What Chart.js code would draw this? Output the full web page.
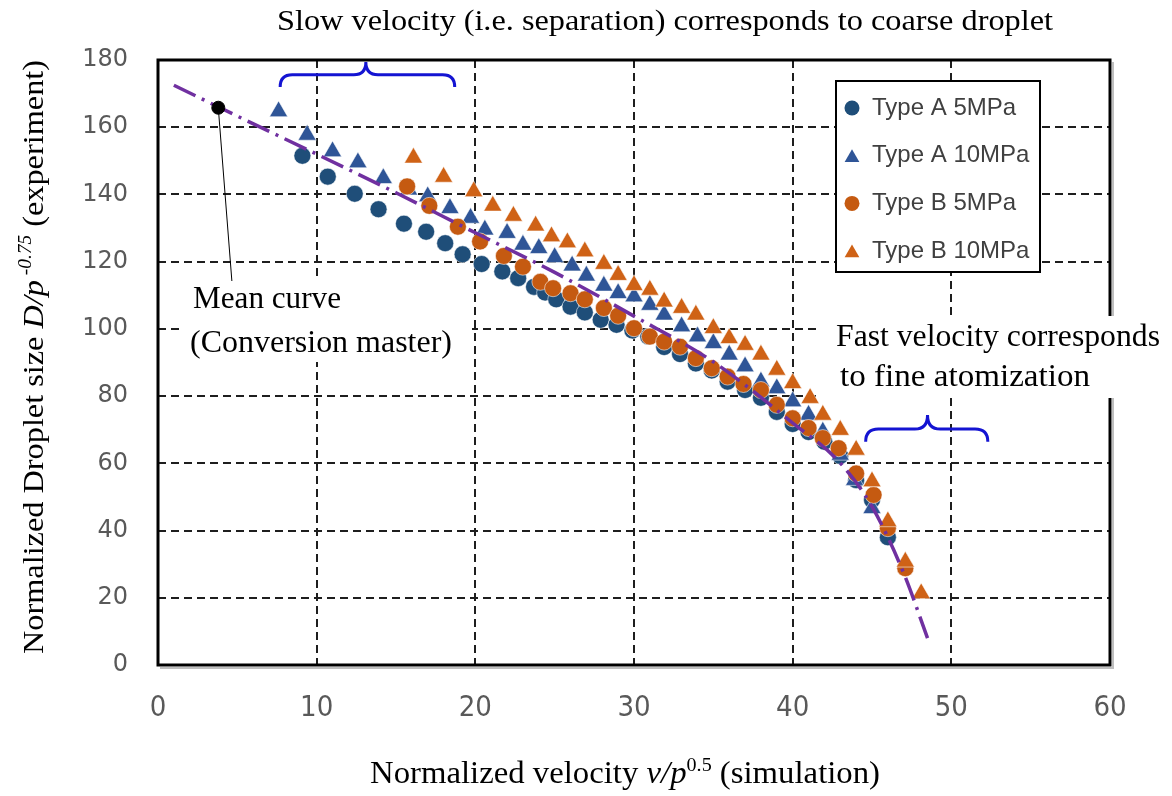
<!DOCTYPE html>
<html>
<head>
<meta charset="utf-8">
<script src="https://cdn.jsdelivr.net/npm/chart.js@4.4.1/dist/chart.umd.min.js"></script>
<style>
  html, body { margin: 0; padding: 0; background: #fff; }
  #wrap { position: relative; width: 1172px; height: 796px; }
</style>
</head>
<body>
<div id="wrap"><canvas id="chart" width="1172" height="796"></canvas></div>
<script>
// Axis ticks
const xTicks = [0, 10, 20, 30, 40, 50, 60];
const yTicks = [0, 20, 40, 60, 80, 100, 120, 140, 160, 180];

// Type A 5MPa
const typeA5x = [9.1, 10.7, 12.4, 13.9, 15.5, 16.9, 18.1, 19.2, 20.4, 21.7, 22.7, 23.7, 24.4, 25.1, 26.0, 26.9, 27.9, 28.9, 29.9, 30.9, 31.9, 32.9, 33.9, 34.9, 35.9, 37.0, 38.0, 39.0, 40.0, 41.0, 42.0, 43.0, 44.0, 45.0, 46.0];
const typeA5y = [151.5, 145.3, 140.2, 135.6, 131.3, 128.9, 125.5, 122.2, 119.3, 117.1, 115.1, 112.5, 110.8, 108.8, 106.6, 104.9, 102.7, 101.2, 99.5, 97.7, 94.6, 92.5, 89.7, 87.6, 84.3, 81.8, 79.5, 75.3, 71.7, 69.3, 66.4, 62.2, 55.0, 49.1, 38.0];

// Type A 10MPa
const typeA10x = [7.6, 9.4, 11.0, 12.6, 14.2, 15.8, 17.0, 18.4, 19.7, 20.6, 22.0, 23.0, 24.0, 25.0, 26.1, 27.0, 28.1, 29.0, 30.0, 31.0, 31.9, 33.0, 34.0, 35.0, 36.0, 37.0, 38.0, 39.0, 40.0, 41.0, 41.9, 43.0, 43.9, 45.0];
const typeA10y = [164.7, 157.7, 152.8, 149.5, 144.8, 141.4, 139.4, 135.9, 133.0, 129.5, 128.5, 125.0, 124.0, 121.3, 118.8, 115.8, 112.8, 110.6, 109.6, 107.1, 104.2, 100.7, 97.7, 95.7, 92.3, 88.8, 84.3, 82.3, 78.4, 74.4, 69.4, 62.5, 55.0, 46.6];

// Type B 5MPa
const typeB5x = [15.7, 17.1, 18.9, 20.3, 21.8, 23.0, 24.1, 24.9, 26.0, 26.9, 28.1, 29.0, 30.0, 31.0, 31.9, 32.9, 33.9, 34.9, 35.9, 36.9, 38.0, 39.0, 40.0, 41.0, 41.9, 42.9, 44.0, 45.1, 46.0, 47.1];
const typeB5y = [142.4, 136.6, 130.4, 126.0, 121.7, 118.5, 114.0, 112.1, 110.6, 108.8, 106.2, 103.9, 100.2, 97.7, 96.2, 94.7, 91.3, 88.3, 85.8, 83.6, 81.8, 77.4, 73.4, 70.5, 67.5, 64.5, 57.0, 50.6, 40.7, 28.8];

// Type B 10MPa
const typeB10x = [16.1, 18.0, 19.9, 21.1, 22.4, 23.8, 24.8, 25.8, 26.9, 28.1, 29.0, 30.0, 31.0, 31.9, 33.0, 33.9, 35.0, 36.0, 37.0, 38.0, 39.0, 40.0, 41.1, 41.9, 43.0, 44.0, 45.0, 46.0, 47.1, 48.1];
const typeB10y = [150.9, 145.2, 140.9, 136.6, 133.6, 130.7, 127.5, 125.7, 123.0, 119.3, 116.0, 113.0, 111.6, 108.1, 106.2, 104.2, 100.2, 97.2, 95.2, 92.3, 87.8, 83.8, 79.4, 74.4, 69.9, 64.0, 54.6, 42.7, 30.7, 21.3];

// Mean curve (conversion master) and its marked point
const meanX = [1.0, 5, 10, 15, 20, 25, 30, 35, 40, 43, 45, 47, 48.5];
const meanY = [172.5, 163.3, 152.0, 140.5, 128.6, 116.8, 103.8, 90.2, 72.0, 60.1, 47.1, 27.3, 8.0];
const meanDotX = [3.8];
const meanDotY = [165.8];

const pts = (xs, ys) => xs.map((x, i) => ({x, y: ys[i]}));

const SERIF = '"Liberation Serif", "Times New Roman", serif';

// Draw a run of differently styled text pieces, stretched to fit [left, right]
function drawRich(ctx, parts, left, right, cy){
  let w = 0;
  parts.forEach(p => { ctx.font = p.f; w += ctx.measureText(p.t).width; });
  const k = (right - left) / w;
  ctx.save();
  ctx.translate(left, cy);
  ctx.scale(k, 1);
  ctx.textAlign = 'left';
  ctx.textBaseline = 'middle';
  let x = 0;
  parts.forEach(p => {
    ctx.font = p.f;
    ctx.fillText(p.t, x, p.dy || 0);
    x += ctx.measureText(p.t).width;
  });
  ctx.restore();
}

function marker(ctx, style, x, y, r, color){
  ctx.fillStyle = color;
  ctx.beginPath();
  if(style === 'circle') ctx.arc(x, y, r, 0, Math.PI * 2);
  else {
    for(let i = 0; i < 3; i++){
      const ang = i * 2 * Math.PI / 3;
      const mx = x + Math.sin(ang) * r, my = y - Math.cos(ang) * r;
      if(i) ctx.lineTo(mx, my); else ctx.moveTo(mx, my);
    }
    ctx.closePath();
  }
  ctx.fill();
}

function brace(ctx, x1, x2, xm, yEnd, yBar, yTip){
  const r = Math.abs(yEnd - yBar);
  ctx.beginPath();
  ctx.moveTo(x1, yEnd);
  ctx.quadraticCurveTo(x1, yBar, x1 + r, yBar);
  ctx.lineTo(xm - r, yBar);
  ctx.quadraticCurveTo(xm, yBar, xm, yTip);
  ctx.quadraticCurveTo(xm, yBar, xm + r, yBar);
  ctx.lineTo(x2 - r, yBar);
  ctx.quadraticCurveTo(x2, yBar, x2, yEnd);
  ctx.stroke();
}

// Frame, annotations, legend and axis titles
const decor = {
  id: 'decor',
  afterDraw(chart){
    const {ctx, chartArea: a} = chart;
    const sx = chart.scales.x, sy = chart.scales.y;
    const px = v => sx.getPixelForValue(v), py = v => sy.getPixelForValue(v);
    ctx.save();

    // plot frame with a faint shadow under it
    ctx.strokeStyle = 'rgba(0,0,0,0.25)';
    ctx.lineWidth = 2;
    ctx.beginPath();
    ctx.moveTo(a.left + 2, a.bottom + 3);
    ctx.lineTo(a.right + 3, a.bottom + 3);
    ctx.lineTo(a.right + 3, a.top + 2);
    ctx.stroke();
    ctx.strokeStyle = '#000';
    ctx.lineWidth = 3;
    ctx.strokeRect(a.left, a.top, a.right - a.left, a.bottom - a.top);

    // leader from the mean point to its label
    ctx.lineWidth = 1;
    ctx.beginPath();
    ctx.moveTo(px(meanDotX[0]), py(meanDotY[0]));
    ctx.lineTo(px(4.7), py(111.6));
    ctx.stroke();

    // braces
    ctx.strokeStyle = '#1414D2';
    ctx.lineWidth = 3;
    brace(ctx, px(7.7), px(18.7), px(13.1), py(172.0), py(175.6), py(179.4));
    brace(ctx, px(44.6), px(52.3), px(48.5), py(66.4), py(70.2), py(74.4));

    // text boxes
    ctx.fillStyle = '#fff';
    ctx.fillRect(182, 281, 290, 81);
    ctx.fillRect(821, 316, 351, 82);
    ctx.fillStyle = '#000';
    drawRich(ctx, [{t: 'Mean curve', f: '31px ' + SERIF}], 193, 341, 300);
    drawRich(ctx, [{t: '(Conversion master)', f: '31px ' + SERIF}], 190, 452, 344);
    drawRich(ctx, [{t: 'Fast velocity corresponds', f: '31px ' + SERIF}], 836, 1160, 338);
    drawRich(ctx, [{t: 'to fine atomization', f: '31px ' + SERIF}], 840, 1090, 378);

    // top caption
    drawRich(ctx, [{t: 'Slow velocity (i.e. separation) corresponds to coarse droplet', f: '29px ' + SERIF}], 277, 1053, 22);

    // x axis title
    drawRich(ctx, [
      {t: 'Normalized velocity ', f: '31px ' + SERIF},
      {t: 'v/p', f: 'italic 31px ' + SERIF},
      {t: '0.5', f: '19px ' + SERIF, dy: -9},
      {t: ' (simulation)', f: '31px ' + SERIF}
    ], 370, 880, 775);

    // y axis title (rotated)
    ctx.save();
    ctx.translate(35, 0);
    ctx.rotate(-Math.PI / 2);
    drawRich(ctx, [
      {t: 'Normalized Droplet size ', f: '30px ' + SERIF},
      {t: 'D/p', f: 'italic 30px ' + SERIF},
      {t: ' -0.75', f: 'italic 18px ' + SERIF, dy: -9},
      {t: ' (experiment)', f: '30px ' + SERIF}
    ], -654, -60, 0);
    ctx.restore();

    // legend
    const lx = 836, ly = 81, lw = 204, lh = 191;
    ctx.fillStyle = '#fff';
    ctx.fillRect(lx, ly, lw, lh);
    ctx.strokeStyle = '#000';
    ctx.lineWidth = 2;
    ctx.strokeRect(lx, ly, lw, lh);
    const rows = chart.data.datasets.filter(d => d.inLegend);
    rows.forEach((d, i) => {
      const cy = 108 + i * 47.7;
      marker(ctx, d.pointStyle, 852, cy + (d.pointStyle === 'circle' ? 0 : 2), d.pointStyle === 'circle' ? 7.5 : 8.5, d.backgroundColor);
      ctx.fillStyle = '#404040';
      ctx.font = '24px "Liberation Sans", Arial, sans-serif';
      ctx.textAlign = 'left';
      ctx.textBaseline = 'middle';
      ctx.fillText(d.label, 872, cy);
    });

    ctx.restore();
  }
};

const seriesStyle = (color, style, r, order) => ({
  pointStyle: style,
  pointRadius: r,
  pointHoverRadius: r,
  backgroundColor: color,
  borderColor: 'rgba(255,255,255,0.55)',
  borderWidth: 1,
  order,
  inLegend: true
});

new Chart(document.getElementById('chart'), {
  type: 'scatter',
  data: {
    datasets: [
      {label: 'Mean point', data: pts(meanDotX, meanDotY), pointRadius: 6.5, backgroundColor: '#000', borderColor: '#000', order: 0},
      {label: 'Mean curve', data: pts(meanX, meanY), showLine: true, borderColor: '#7030A0', borderWidth: 3.5,
        borderDash: [24, 7, 3, 7], pointRadius: 0, cubicInterpolationMode: 'monotone', fill: false, order: 1},
      Object.assign({label: 'Type A 5MPa', data: pts(typeA5x, typeA5y)}, seriesStyle('#1F4E79', 'circle', 8.5, 5)),
      Object.assign({label: 'Type A 10MPa', data: pts(typeA10x, typeA10y)}, seriesStyle('#2F5597', 'triangle', 10.5, 4)),
      Object.assign({label: 'Type B 5MPa', data: pts(typeB5x, typeB5y)}, seriesStyle('#C55A11', 'circle', 8.5, 3)),
      Object.assign({label: 'Type B 10MPa', data: pts(typeB10x, typeB10y)}, seriesStyle('#CF6216', 'triangle', 10.5, 2))
    ]
  },
  options: {
    responsive: false,
    animation: false,
    devicePixelRatio: 1,
    layout: {padding: {left: 0, top: 60, right: 62, bottom: 0}},
    plugins: {legend: {display: false}, tooltip: {enabled: false}},
    scales: {
      x: {
        type: 'linear',
        min: xTicks[0], max: xTicks[xTicks.length - 1],
        afterFit: s => { s.height = 131; },
        afterBuildTicks: s => { s.ticks = xTicks.map(v => ({value: v})); },
        ticks: {
          padding: 26,
          color: '#595959',
          font: {family: '"Liberation Sans Narrow", "DejaVu Sans Condensed", sans-serif', size: 29}
        },
        grid: {color: '#1e1e1e', lineWidth: 2, drawTicks: false},
        border: {display: false, dash: [8, 5]}
      },
      y: {
        type: 'linear',
        min: yTicks[0], max: yTicks[yTicks.length - 1],
        afterFit: s => { s.width = 158; },
        afterBuildTicks: s => { s.ticks = yTicks.map(v => ({value: v})); },
        ticks: {
          padding: 30,
          color: '#595959',
          font: {family: '"DejaVu Sans", Verdana, sans-serif', size: 24}
        },
        grid: {color: '#1e1e1e', lineWidth: 2, drawTicks: false},
        border: {display: false, dash: [8, 5]}
      }
    }
  },
  plugins: [decor]
});
</script>
</body>
</html>
